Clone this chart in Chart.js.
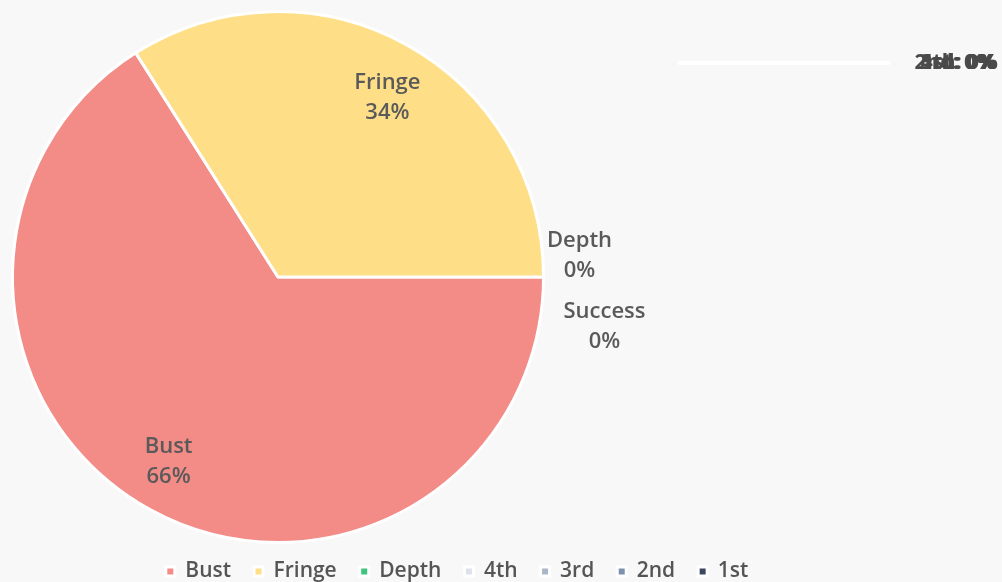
<!DOCTYPE html>
<html>
<head>
<meta charset="utf-8">
<title>Outcomes</title>
<script src="https://cdn.jsdelivr.net/npm/chart.js@4/dist/chart.umd.min.js"></script>
<style>
    html, body { margin: 0; padding: 0; background: #f8f8f8; }
    #outcomes { display: block; }
</style>
</head>
<body>
<canvas id="outcomes" width="1002" height="582"></canvas>
<script>
/* Dane do wykresu */
var categories = ['Bust', 'Fringe', 'Depth', '4th', '3rd', '2nd', '1st', 'Success'];
var shares = [66, 34, 0, 0, 0, 0, 0, 0];
var sliceColors = ['#f38b87', '#fedf88', '#3ec47c', '#dde2ea', '#aab7c7', '#7c91ad', '#3b4861', '#9a9a9a'];

/* Gdzie stoją etykiety zerowych wycinków */
var outsideLabels = {
    'Depth':   { out: 36, dy: -21 },
    'Success': { out: 61, dy: 50 }
};
var calloutLabels = ['4th', '3rd', '2nd', '1st'];

var fontFamily = '"Open Sans"';
var labelFont = '600 22px ' + fontFamily;
var labelColor = '#5a5a5a';
var labelShift = 2.2 * Math.PI / 180;

/* Koło po lewej stronie, legenda pod spodem */
var pieBox = {
    id: 'pieBox',
    afterLayout: function (chart) {
        var a = chart.chartArea;
        a.left = 11;
        a.top = 10;
        a.right = 545;
        a.bottom = 544;
        a.width = 534;
        a.height = 534;
    }
};

var sliceLabels = {
    id: 'sliceLabels',
    afterDatasetsDraw: function (chart) {
        var ctx = chart.ctx;
        var meta = chart.getDatasetMeta(0);
        ctx.save();
        ctx.textAlign = 'center';
        ctx.textBaseline = 'middle';
        ctx.font = labelFont;
        ctx.fillStyle = labelColor;
        meta.data.forEach(function (arc, i) {
            var name = categories[i];
            var value = shares[i];
            var p = arc.getProps(['x', 'y', 'startAngle', 'endAngle', 'outerRadius'], true);
            var mid = (p.startAngle + p.endAngle) / 2;
            var text = value + '%';
            var cx, cy;
            if (value > 0) {
                cx = p.x + Math.cos(mid + labelShift) * p.outerRadius * 0.8;
                cy = p.y + Math.sin(mid + labelShift) * p.outerRadius * 0.8 + 3;
            } else if (outsideLabels[name]) {
                cx = p.x + Math.cos(mid) * (p.outerRadius + outsideLabels[name].out);
                cy = p.y + Math.sin(mid) * (p.outerRadius + outsideLabels[name].out) + outsideLabels[name].dy;
            } else {
                return;
            }
            ctx.fillText(name, cx, cy - 15);
            ctx.fillText(text, cx, cy + 15);
        });

        /* zbite etykiety u góry po prawej */
        var right = chart.width - 4;
        var top = chart.chartArea.top + 53;
        ctx.strokeStyle = '#ffffff';
        ctx.lineWidth = 4;
        ctx.beginPath();
        ctx.moveTo(right - 320, top);
        ctx.lineTo(right - 108, top);
        ctx.stroke();
        ctx.font = '700 21px ' + fontFamily;
        ctx.fillStyle = '#4a4a4a';
        ctx.textAlign = 'right';
        calloutLabels.forEach(function (name, k) {
            ctx.fillText(name + ': ' + shares[categories.indexOf(name)] + '%', right - k, top);
        });
        ctx.restore();
    }
};

var ctxOutcomes = document.getElementById('outcomes');

var chartOutcomes = new Chart(ctxOutcomes, {
    type: 'pie',
    data: {
        labels: categories,
        datasets: [
            {
                data: shares,
                backgroundColor: sliceColors,
                borderColor: '#ffffff',
                borderWidth: 3
            }
        ]
    },
    options: {
        responsive: false,
        maintainAspectRatio: false,
        animation: false,
        rotation: 90,
        layout: { padding: { right: 88, bottom: -10 } },
        plugins: {
            tooltip: { enabled: false },
            legend: {
                position: 'bottom',
                labels: {
                    boxWidth: 9,
                    boxHeight: 9,
                    padding: 23,
                    color: '#555555',
                    font: { family: 'Open Sans', size: 21, weight: '600' },
                    filter: function (item) { return item.text !== 'Success'; }
                }
            }
        }
    },
    plugins: [pieBox, sliceLabels]
});
</script>
</body>
</html>
